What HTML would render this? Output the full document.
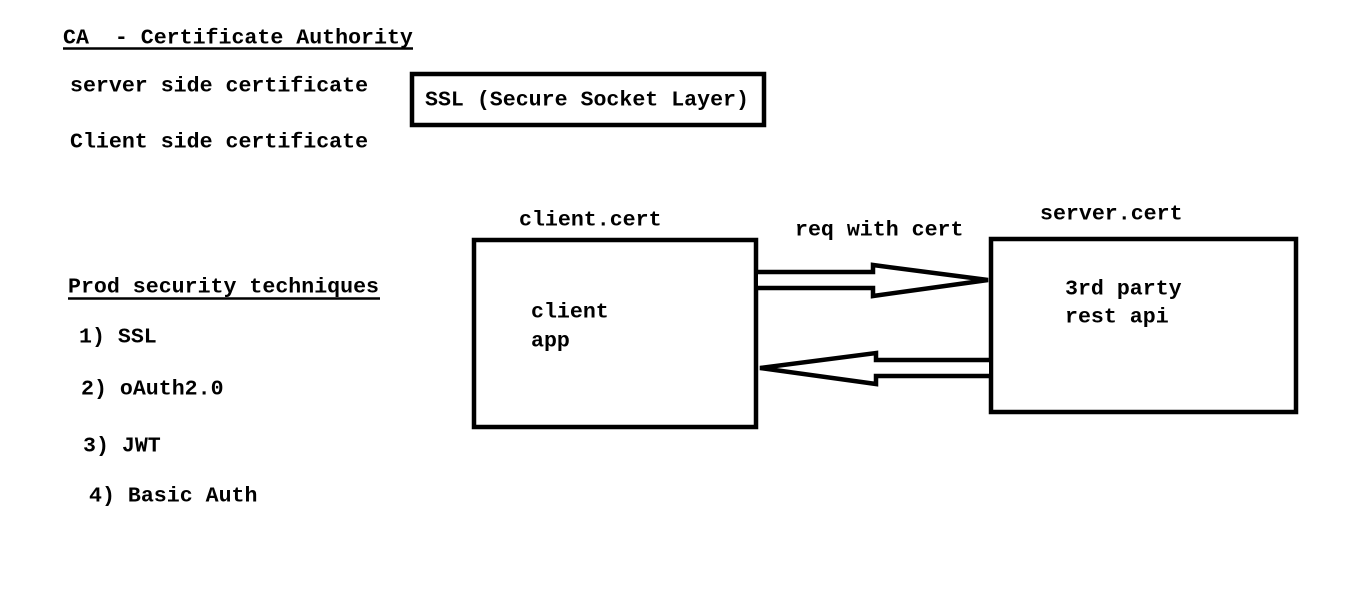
<!DOCTYPE html>
<html><head><meta charset="utf-8"><style>
html,body{margin:0;padding:0;background:#fff;}
svg text{font-family:"Liberation Mono",monospace;font-weight:bold;font-size:21.6px;fill:#000;dominant-baseline:central;}
</style></head><body>
<svg width="1360" height="593" viewBox="0 0 1360 593" xmlns="http://www.w3.org/2000/svg">
<rect width="1360" height="593" fill="#fff"/>
<g transform="translate(0,1.5)">
<text x="63" y="37">CA&#160;&#160;- Certificate Authority</text>
<text x="70" y="85">server side certificate</text>
<text x="70" y="141">Client side certificate</text>
<text x="425" y="99">SSL (Secure Socket Layer)</text>
<text x="519" y="219">client.cert</text>
<text x="795" y="229">req with cert</text>
<text x="1040" y="213">server.cert</text>
<text x="531" y="311">client</text>
<text x="531" y="340">app</text>
<text x="1065" y="288">3rd party</text>
<text x="1065" y="316">rest api</text>
<text x="68" y="286">Prod security techniques</text>
<text x="79" y="336">1) SSL</text>
<text x="81" y="388">2) oAuth2.0</text>
<text x="83" y="445">3) JWT</text>
<text x="89" y="495">4) Basic Auth</text>
</g>
<line x1="63" y1="48.5" x2="413" y2="48.5" stroke="#000" stroke-width="2.5"/>
<line x1="68" y1="298.5" x2="380" y2="298.5" stroke="#000" stroke-width="2.5"/>
<rect x="412" y="74" width="352" height="51" fill="none" stroke="#000" stroke-width="4.5"/>
<rect x="474" y="240" width="282" height="187" fill="none" stroke="#000" stroke-width="4.5"/>
<rect x="991" y="239" width="305" height="173" fill="none" stroke="#000" stroke-width="4.5"/>
<polyline points="758,272 873,272 873,265 988,280 873,296 873,288 758,288" fill="#fff" stroke="#000" stroke-width="4.5" stroke-linejoin="miter"/>
<polyline points="989,360 876,360 876,353 760,368 876,384 876,376 989,376" fill="#fff" stroke="#000" stroke-width="4.5" stroke-linejoin="miter"/>
</svg>
</body></html>
